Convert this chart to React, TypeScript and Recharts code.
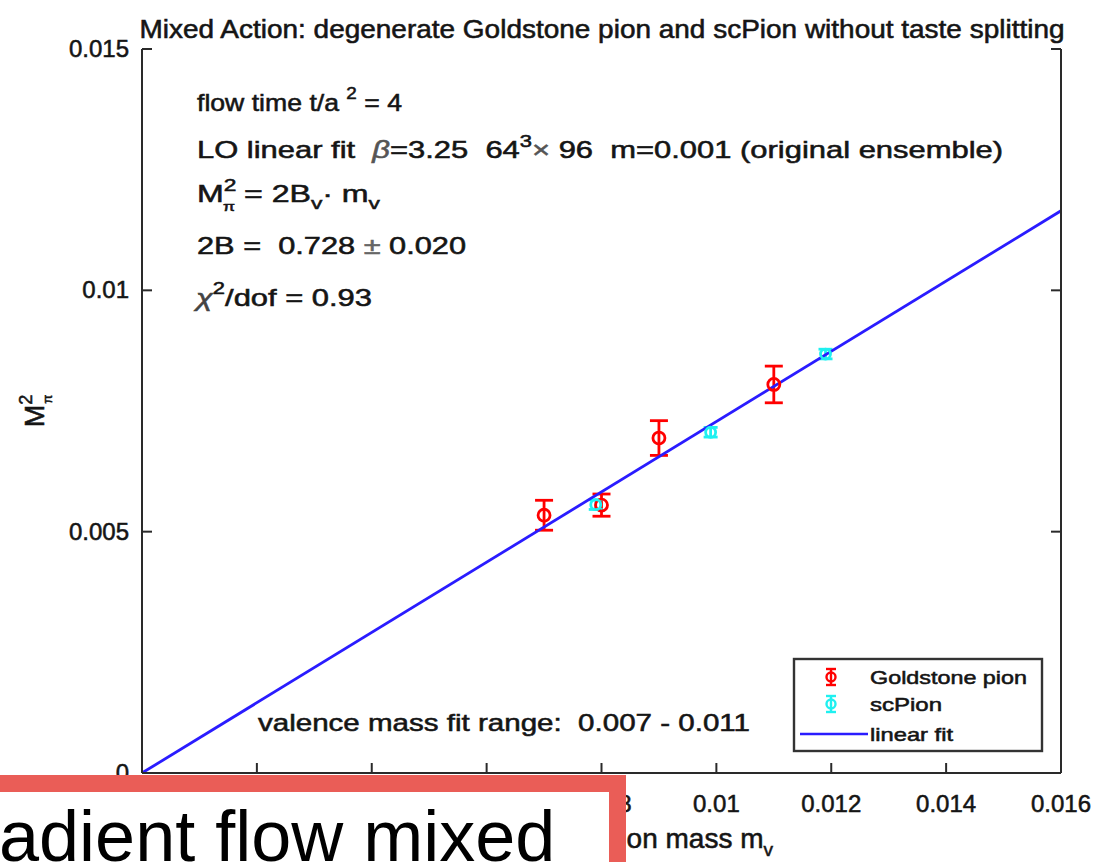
import React from 'react';
import { ComposedChart, Scatter, Line, XAxis, YAxis, ErrorBar, Customized } from 'recharts';

// Goldstone pion: valence mass, squared pion mass and its error
const goldstoneMass = [0.007, 0.008, 0.009, 0.011];
const goldstoneM2 = [0.00534, 0.00555, 0.00694, 0.00805];
const goldstoneErr = [0.00031, 0.00023, 0.00036, 0.00038];

// scPion (staggered, no taste splitting)
const scPionMass = [0.0079, 0.0099, 0.0119];
const scPionM2 = [0.00556, 0.00706, 0.00868];
const scPionErr = [0.0001, 0.0001, 0.0001];

// LO fit  M_pi^2 = 2B * m_v
const twoB = 0.728;
const fitMass = [0, 0.016];

const xTicks = [0, 0.002, 0.004, 0.006, 0.008, 0.01, 0.012, 0.014, 0.016];
const xTickLabels = ['0', '0.002', '0.004', '0.006', '0.008', '0.01', '0.012', '0.014', '0.016'];
const yTicks = [0, 0.005, 0.01, 0.015];
const yTickLabels = ['0', '0.005', '0.01', '0.015'];

const W = 1099;
const H = 862;
const PLOT_LEFT = 142;
const PLOT_RIGHT = 1061;
const PLOT_TOP = 49;
const PLOT_BOTTOM = 773;
const TICK_LEN = 10;

const FONT = '"Liberation Sans", Arial, Helvetica, sans-serif';
const INK = '#151515';
const AXIS = '#2a2a2a';
const RED = '#ff0000';
const CYAN = '#1ff0f0';
const BLUE = '#2a1cff';

// slightly heavier strokes on the chart lettering
const heavy = { stroke: INK, strokeWidth: 0.55 };

const goldstoneRows = goldstoneMass.map((m, i) => ({ m, M2: goldstoneM2[i], err: goldstoneErr[i] }));
const scPionRows = scPionMass.map((m, i) => ({ m, M2: scPionM2[i], err: scPionErr[i] }));
const fitRows = fitMass.map((m) => ({ m, M2: twoB * m }));

const BottomTick = (props: any) => {
  const { x, payload } = props;
  const label = xTickLabels[xTicks.indexOf(payload.value)];
  return (
    <g>
      <line x1={x} x2={x} y1={PLOT_BOTTOM} y2={PLOT_BOTTOM - TICK_LEN} stroke={AXIS} strokeWidth={2} />
      <text x={x} y={812} textAnchor="middle" fontSize={24} fontFamily={FONT} fill={INK} {...heavy}>
        {label}
      </text>
    </g>
  );
};

const TopTick = (props: any) => {
  const { x } = props;
  return <line x1={x} x2={x} y1={PLOT_TOP} y2={PLOT_TOP + TICK_LEN} stroke={AXIS} strokeWidth={2} />;
};

const LeftTick = (props: any) => {
  const { y, payload } = props;
  const label = yTickLabels[yTicks.indexOf(payload.value)];
  return (
    <g>
      <line x1={PLOT_LEFT} x2={PLOT_LEFT + TICK_LEN} y1={y} y2={y} stroke={AXIS} strokeWidth={2} />
      <text x={129} y={y + 8} textAnchor="end" fontSize={24} fontFamily={FONT} fill={INK} {...heavy}>
        {label}
      </text>
    </g>
  );
};

const RightTick = (props: any) => {
  const { y } = props;
  return <line x1={PLOT_RIGHT} x2={PLOT_RIGHT - TICK_LEN} y1={y} y2={y} stroke={AXIS} strokeWidth={2} />;
};

const RedMarker = (props: any) => (
  <circle cx={props.cx} cy={props.cy} r={6} fill="none" stroke={RED} strokeWidth={2.8} />
);
const CyanMarker = (props: any) => (
  <circle cx={props.cx} cy={props.cy} r={5} fill="none" stroke={CYAN} strokeWidth={2.8} />
);

const LegendGlyph = ({ x, y, color }: { x: number; y: number; color: string }) => (
  <g stroke={color} strokeWidth={2.4} fill="none">
    <line x1={x} x2={x} y1={y - 8} y2={y + 8} />
    <line x1={x - 5} x2={x + 5} y1={y - 8} y2={y - 8} />
    <line x1={x - 5} x2={x + 5} y1={y + 8} y2={y + 8} />
    <circle cx={x} cy={y} r={4.5} />
  </g>
);

const Annotations = () => {
  const t = { fontFamily: FONT, fill: INK, lengthAdjust: 'spacingAndGlyphs' as const, ...heavy };
  return (
    <g>
      {/* title */}
      <text x={602} y={38} textAnchor="middle" fontSize={25} textLength={925} {...t}>
        Mixed Action: degenerate Goldstone pion and scPion without taste splitting
      </text>

      {/* fit summary */}
      <text x={197} y={111} fontSize={24} textLength={205} {...t}>
        flow time t/a{'\u00a0'}
        <tspan dy={-12} fontSize={17}>2</tspan>
        <tspan dy={12}>{'\u00a0'}= 4</tspan>
      </text>
      <text x={197} y={158} fontSize={24} textLength={806} {...t}>
        LO linear fit{'\u00a0\u00a0'}
        <tspan fontStyle="italic" fill="#555" stroke="#555">β</tspan>=3.25{'\u00a0\u00a0'}64
        <tspan dy={-11} fontSize={17}>3</tspan>
        <tspan dy={11} fill="#555" stroke="#555">×</tspan> 96{'\u00a0\u00a0'}m=0.001 (original ensemble)
      </text>
      <text x={197} y={202} fontSize={24} textLength={183} {...t}>
        M
        <tspan dy={-11} fontSize={17}>2</tspan>
        <tspan dx={-10} dy={20} fontSize={13}>π</tspan>
        <tspan dy={-9}>{'\u00a0'}= 2B</tspan>
        <tspan dy={7} fontSize={17}>v</tspan>
        <tspan dy={-7}>· m</tspan>
        <tspan dy={7} fontSize={17}>v</tspan>
      </text>
      <text x={197} y={254} fontSize={24} textLength={269} {...t}>
        2B ={'\u00a0\u00a0'}0.728 <tspan fill="#666" stroke="#666">±</tspan> 0.020
      </text>
      <text x={196} y={306} fontSize={24} textLength={176} {...t}>
        <tspan fontStyle="italic" fill="#444" stroke="#444">χ</tspan>
        <tspan dy={-12} fontSize={17}>2</tspan>
        <tspan dy={12}>/dof = 0.93</tspan>
      </text>

      <text x={258} y={731} fontSize={24} textLength={492} {...t}>
        valence mass fit range:{'\u00a0\u00a0'}0.007 - 0.011
      </text>

      {/* y-axis label */}
      <g transform="translate(44,411) rotate(-90)">
        <text x={0} y={0} textAnchor="middle" fontSize={27} fontFamily={FONT} fill={INK} {...heavy}>
          M
          <tspan dy={-12} fontSize={18}>2</tspan>
          <tspan dx={-9} dy={20} fontSize={13}>π</tspan>
        </text>
      </g>

      {/* x-axis label */}
      <text x={773} y={848} textAnchor="end" fontSize={28} fontFamily={FONT} fill={INK} {...heavy}>
        valence pion mass m
        <tspan dy={8} fontSize={19}>v</tspan>
      </text>

      {/* legend */}
      <rect x={794} y={659} width={248} height={92} fill="#fff" stroke="#333" strokeWidth={2.4} />
      <LegendGlyph x={831} y={677} color={RED} />
      <LegendGlyph x={831} y={704} color={CYAN} />
      <line x1={800} x2={868} y1={734} y2={734} stroke={BLUE} strokeWidth={2.4} />
      <text x={870} y={684} fontSize={19} textLength={157} {...t}>Goldstone pion</text>
      <text x={870} y={711} fontSize={19} textLength={72} {...t}>scPion</text>
      <text x={870} y={741} fontSize={19} textLength={83} {...t}>linear fit</text>
    </g>
  );
};

export default function App() {
  return (
    <div style={{ position: 'absolute', left: 0, top: 0, width: W, height: H, overflow: 'hidden', background: '#fff' }}>
      <ComposedChart
        width={W}
        height={H}
        margin={{ top: PLOT_TOP, right: 0, bottom: 0, left: 0 }}
        style={{ background: '#fff' }}
      >
        <XAxis
          dataKey="m"
          type="number"
          domain={[0, 0.016]}
          ticks={xTicks}
          interval={0}
          height={H - PLOT_BOTTOM}
          tickLine={false}
          tickSize={0}
          axisLine={{ stroke: AXIS, strokeWidth: 2 }}
          tick={BottomTick}
          allowDataOverflow
        />
        <XAxis
          xAxisId="top"
          orientation="top"
          type="number"
          domain={[0, 0.016]}
          ticks={xTicks}
          interval={0}
          height={0}
          tickLine={false}
          tickSize={0}
          axisLine={{ stroke: AXIS, strokeWidth: 2 }}
          tick={TopTick}
          allowDataOverflow
        />
        <YAxis
          type="number"
          domain={[0, 0.015]}
          ticks={yTicks}
          interval={0}
          width={PLOT_LEFT}
          tickLine={false}
          tickSize={0}
          axisLine={{ stroke: AXIS, strokeWidth: 2 }}
          tick={LeftTick}
          allowDataOverflow
        />
        <YAxis
          yAxisId="right"
          orientation="right"
          type="number"
          domain={[0, 0.015]}
          ticks={yTicks}
          interval={0}
          width={W - PLOT_RIGHT}
          tickLine={false}
          tickSize={0}
          axisLine={{ stroke: AXIS, strokeWidth: 2 }}
          tick={RightTick}
          allowDataOverflow
        />
        <Scatter name="Goldstone pion" data={goldstoneRows} dataKey="M2" shape={RedMarker} isAnimationActive={false}>
          <ErrorBar dataKey="err" direction="y" width={9} stroke={RED} strokeWidth={2.8} />
        </Scatter>
        <Scatter name="scPion" data={scPionRows} dataKey="M2" shape={CyanMarker} isAnimationActive={false}>
          <ErrorBar dataKey="err" direction="y" width={7} stroke={CYAN} strokeWidth={2.8} />
        </Scatter>
        <Line
          name="linear fit"
          data={fitRows}
          dataKey="M2"
          stroke={BLUE}
          strokeWidth={2.8}
          dot={false}
          activeDot={false}
          isAnimationActive={false}
        />
        <Customized component={Annotations} />
      </ComposedChart>

      {/* slide caption box laid over the lower left */}
      <div
        style={{
          position: 'absolute',
          left: -20,
          top: 775,
          width: 646,
          height: 120,
          boxSizing: 'border-box',
          background: '#fff',
          border: '17px solid #ea5d57',
          overflow: 'hidden',
        }}
      />
      <div
        style={{
          position: 'absolute',
          left: -1,
          top: 800,
          fontFamily: FONT,
          fontSize: 72,
          lineHeight: '72px',
          color: '#000',
          whiteSpace: 'nowrap',
        }}
      >
        adient flow mixed
      </div>
    </div>
  );
}
